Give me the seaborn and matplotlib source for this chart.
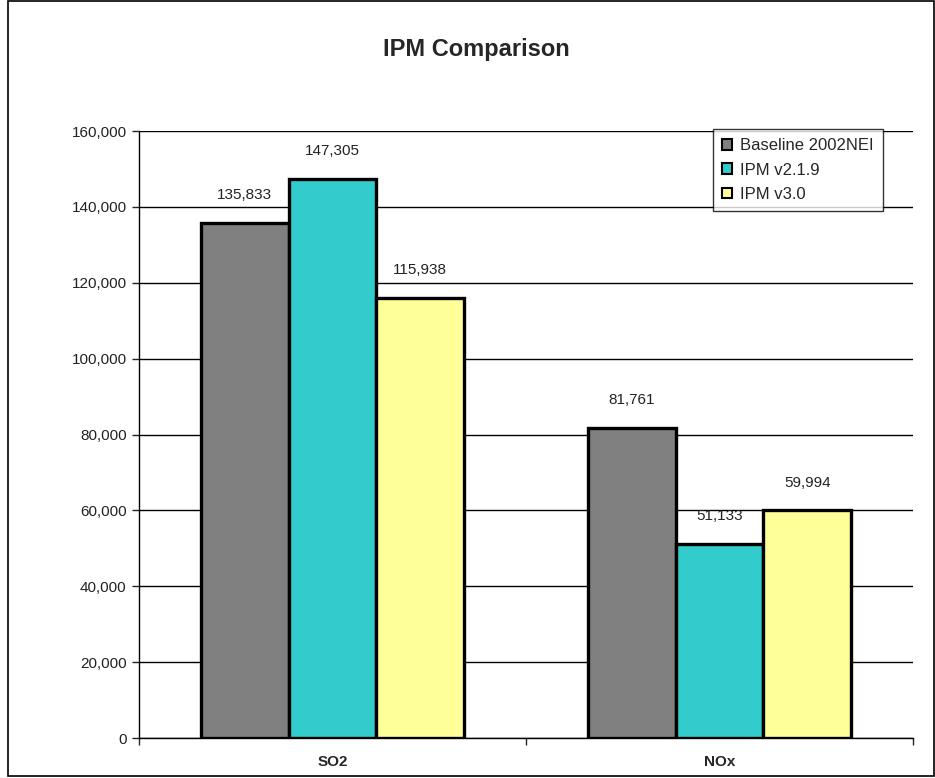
import pandas as pd
import numpy as np
import seaborn as sns
import matplotlib.pyplot as plt
from matplotlib.patches import Rectangle
from matplotlib.ticker import FuncFormatter, MultipleLocator

pollutants = ["SO2", "NOx"]
scenarios = ["Baseline 2002NEI", "IPM v2.1.9", "IPM v3.0"]
baseline = [135833, 81761]
ipm_219 = [147305, 51133]
ipm_30 = [115938, 59994]

df = pd.DataFrame({
    "pollutant": pollutants * 3,
    "scenario": [scenarios[0]] * 2 + [scenarios[1]] * 2 + [scenarios[2]] * 2,
    "tons": baseline + ipm_219 + ipm_30,
})

colors = ["#808080", "#33CCCC", "#FFFF99"]

sns.set_style("white")
plt.rcParams["font.family"] = ["Liberation Sans", "DejaVu Sans"]

fig = plt.figure(figsize=(9.35, 7.78), dpi=100)
ax = fig.add_axes([0.1487, 0.0514, 0.8278, 0.7802])
ax.set_zorder(1)

sns.barplot(data=df, x="pollutant", y="tons", hue="scenario", palette=colors,
            saturation=1, width=0.68, edgecolor="black", linewidth=2.4, ax=ax,
            legend=True)

for cont in ax.containers:
    ax.bar_label(cont, labels=[f"{v:,.0f}" for v in cont.datavalues],
                 padding=15, fontsize=11, color="#222222")

ax.set_ylim(0, 160000)
ax.set_xlim(-0.5, 1.5)
ax.yaxis.set_major_locator(MultipleLocator(20000))
ax.yaxis.set_major_formatter(FuncFormatter(lambda v, p: f"{v:,.0f}"))
ax.grid(axis="y", color="black", linewidth=1)
ax.set_axisbelow(True)
for s in ["top", "right"]:
    ax.spines[s].set_visible(False)
for s in ["left", "bottom"]:
    ax.spines[s].set_color("black")
    ax.spines[s].set_linewidth(1)
ax.tick_params(axis="y", left=True, length=5, width=1, labelsize=11,
               labelcolor="#222222", pad=4)
ax.set_xticks([0, 1])
ax.set_xticklabels(pollutants, fontsize=11, fontweight="bold")
ax.set_xticks([-0.5, 0.5, 1.5], minor=True)
ax.tick_params(axis="x", which="major", length=0, pad=12)
ax.tick_params(axis="x", which="minor", length=5, width=1, bottom=True)
ax.set_xlabel("")
ax.set_ylabel("")

leg = ax.legend(loc="upper right", bbox_to_anchor=(0.961, 1.003), frameon=True,
                fancybox=False, edgecolor="black", fontsize=12, handlelength=0.6,
                handleheight=0.6, handletextpad=0.5, labelspacing=0.55,
                borderpad=0.55, borderaxespad=0)
leg.get_frame().set_linewidth(1)
for h in leg.legend_handles:
    h.set_linewidth(1.5)

fig.text(0.509, 0.937, "IPM Comparison", ha="center", va="center",
         fontsize=17, fontweight="bold")
fig.patches.append(Rectangle((0.009, 0.002), 0.99, 0.997, transform=fig.transFigure,
                             fill=False, edgecolor="black", linewidth=1.2))

fig.savefig("out.png", dpi=100)
